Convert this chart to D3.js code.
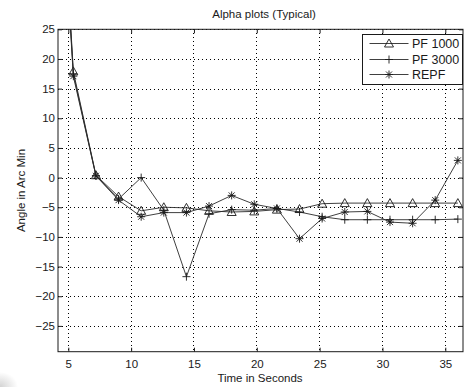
<!DOCTYPE html>
<html>
<head>
<meta charset="utf-8">
<script src="https://cdn.jsdelivr.net/npm/d3@7/dist/d3.min.js"></script>
<style>
  html, body { margin: 0; padding: 0; background: #fff; }
  svg { display: block; font-family: "Liberation Sans", Arial, Helvetica, sans-serif; }
</style>
</head>
<body>
<svg id="chart" width="464" height="387"></svg>
<script>
// Sample times (s); the first sample sits left of the visible window
const times = [3.6, 5.4, 7.2, 9.0, 10.8, 12.6, 14.4, 16.2, 18.0, 19.8, 21.6, 23.4, 25.2, 27.0, 28.8, 30.6, 32.4, 34.2, 36.0];

// Alpha angle in arc minutes for each filter
const pf1000 = [84, 17.9, 0.4, -3.2, -5.6, -5.0, -5.1, -5.6, -5.8, -5.7, -5.4, -5.3, -4.4, -4.3, -4.3, -4.3, -4.3, -4.3, -4.3];
const pf3000 = [82, 17.5, 0.3, -3.6, 0.0, -5.5, -16.7, -6.1, -5.4, -5.5, -5.2, -5.8, -6.6, -7.1, -7.1, -7.1, -7.1, -7.1, -7.0];
const repf   = [80, 17.1, 0.3, -3.8, -6.6, -5.9, -5.9, -4.8, -3.0, -4.5, -5.2, -10.3, -6.9, -5.8, -5.7, -7.5, -7.7, -3.8, 2.9];

const seriesNames = ["PF 1000", "PF 3000", "REPF"];
const seriesMarkers = ["triangle", "plus", "star"];

const xTicks = [5, 10, 15, 20, 25, 30, 35];
const yTicks = [25, 20, 15, 10, 5, 0, -5, -10, -15, -20, -25];

const title = "Alpha plots (Typical)";
const xLabel = "Time in Seconds";
const yLabel = "Angle in Arc Min";

// Layout
const plot = { left: 58, top: 29.3, right: 463, bottom: 351.7 };
const svg = d3.select("#chart");

const x = d3.scaleLinear().domain([4.18, 36.41]).range([plot.left, plot.right]);
const y = d3.scaleLinear().domain([-29.35, 25]).range([plot.bottom, plot.top]);

const ink = "#1a1a1a";

// Soft grey smudge in the lower-left corner of the page
const defs = svg.append("defs");
const rg = defs.append("radialGradient").attr("id", "cornerShade")
  .attr("cx", 0).attr("cy", 1).attr("r", 1);
rg.append("stop").attr("offset", 0).attr("stop-color", "#c8c8c8").attr("stop-opacity", 0.8);
rg.append("stop").attr("offset", 1).attr("stop-color", "#c8c8c8").attr("stop-opacity", 0);
svg.append("rect").attr("x", 0).attr("y", 372).attr("width", 18).attr("height", 15)
  .attr("fill", "url(#cornerShade)");

// Grid (dotted)
const grid = svg.append("g");
grid.selectAll(".gx").data(xTicks).join("line")
  .attr("x1", d => x(d)).attr("x2", d => x(d))
  .attr("y1", plot.top).attr("y2", plot.bottom)
  .attr("stroke", "#000").attr("stroke-width", 1)
  .attr("stroke-dasharray", "1,3").attr("shape-rendering", "crispEdges");
grid.selectAll(".gy").data(yTicks).join("line")
  .attr("y1", d => Math.round(y(d)) + 0.5).attr("y2", d => Math.round(y(d)) + 0.5)
  .attr("x1", plot.left).attr("x2", plot.right)
  .attr("stroke", "#000").attr("stroke-width", 1)
  .attr("stroke-dasharray", "1,3").attr("shape-rendering", "crispEdges");

// Axes with inward ticks on all four sides
const tick = 4;
const fmt = d3.format("");
const axB = svg.append("g").attr("transform", `translate(0,${plot.bottom})`)
  .call(d3.axisBottom(x).tickValues(xTicks).tickSizeInner(-tick).tickSizeOuter(0).tickPadding(8).tickFormat(fmt));
const axT = svg.append("g").attr("transform", `translate(0,${plot.top})`)
  .call(d3.axisTop(x).tickValues(xTicks).tickSizeInner(-tick).tickSizeOuter(0).tickFormat(""));
const axL = svg.append("g").attr("transform", `translate(${plot.left},0)`)
  .call(d3.axisLeft(y).tickValues(yTicks).tickSizeInner(-tick).tickSizeOuter(0).tickPadding(3).tickFormat(fmt));
const axR = svg.append("g").attr("transform", `translate(${plot.right},0)`)
  .call(d3.axisRight(y).tickValues(yTicks).tickSizeInner(-tick).tickSizeOuter(0).tickFormat(""));

[axB, axT, axL, axR].forEach(a => {
  a.select(".domain").remove();
  a.selectAll(".tick line").attr("stroke", ink);
  a.selectAll(".tick text").attr("fill", ink).attr("font-size", 11.5)
    .attr("font-family", "Liberation Sans, Arial, sans-serif");
});

// Frame
svg.append("rect")
  .attr("x", plot.left).attr("y", plot.top)
  .attr("width", plot.right - plot.left).attr("height", plot.bottom - plot.top)
  .attr("fill", "none").attr("stroke", ink).attr("stroke-width", 1);

// Clip for data lines
defs.append("clipPath").attr("id", "plotClip").append("rect")
  .attr("x", plot.left).attr("y", plot.top)
  .attr("width", plot.right - plot.left).attr("height", plot.bottom - plot.top);

const lineGen = d3.line().x(d => x(d[0])).y(d => y(d[1]));

function drawMarker(g, kind, cx, cy) {
  const s = 4;
  let d;
  if (kind === "triangle") {
    d = `M${cx},${cy - s - 0.5}L${cx + s + 0.5},${cy + s - 0.5}L${cx - s - 0.5},${cy + s - 0.5}Z`;
  } else if (kind === "plus") {
    d = `M${cx - s},${cy}H${cx + s}M${cx},${cy - s}V${cy + s}`;
  } else {
    const k = s * 0.75;
    d = `M${cx - s},${cy}H${cx + s}M${cx},${cy - s}V${cy + s}M${cx - k},${cy - k}L${cx + k},${cy + k}M${cx - k},${cy + k}L${cx + k},${cy - k}`;
  }
  g.append("path").attr("d", d)
    .attr("fill", "none").attr("stroke", ink).attr("stroke-width", 0.9);
}

const allSeries = [pf1000, pf3000, repf];
const [xd0, xd1] = x.domain();
const [yd0, yd1] = y.domain();
allSeries.forEach((vals, i) => {
  const pts = times.map((t, j) => [t, vals[j]]);
  const g = svg.append("g");
  g.append("path").datum(pts)
    .attr("clip-path", "url(#plotClip)")
    .attr("d", lineGen)
    .attr("fill", "none").attr("stroke", "#2a2a2a").attr("stroke-width", 0.9);
  pts.filter(p => p[0] >= xd0 && p[0] <= xd1 && p[1] >= yd0 && p[1] <= yd1)
    .forEach(p => drawMarker(g, seriesMarkers[i], x(p[0]), y(p[1])));
});

// Legend
const lg = svg.append("g");
const lgBox = { x: 362, y: 34, w: 101, h: 50 };
lg.append("rect").attr("x", lgBox.x + 0.5).attr("y", lgBox.y + 0.5)
  .attr("width", lgBox.w - 1).attr("height", lgBox.h)
  .attr("fill", "#fff").attr("stroke", ink).attr("stroke-width", 1);
const rowY = [43.5, 59.5, 74.5];
seriesNames.forEach((name, i) => {
  lg.append("line").attr("x1", 369.5).attr("x2", 408.5)
    .attr("y1", rowY[i]).attr("y2", rowY[i])
    .attr("stroke", "#2a2a2a").attr("stroke-width", 0.9);
  drawMarker(lg, seriesMarkers[i], 389, rowY[i]);
  lg.append("text").attr("x", 412).attr("y", rowY[i]).attr("dy", "0.36em")
    .attr("font-size", 12.5).attr("fill", ink).text(name);
});

// Titles
svg.append("text").attr("x", 264).attr("y", 14).attr("dy", "0.35em")
  .attr("text-anchor", "middle").attr("font-size", 11.5).attr("fill", ink).text(title);
svg.append("text").attr("x", 260).attr("y", 378).attr("dy", "0.35em")
  .attr("text-anchor", "middle").attr("font-size", 11.5).attr("fill", ink).text(xLabel);
svg.append("text")
  .attr("transform", `translate(21,${(plot.top + plot.bottom) / 2}) rotate(-90)`)
  .attr("dy", "0.35em").attr("text-anchor", "middle")
  .attr("font-size", 11.5).attr("fill", ink).text(yLabel);
</script>
</body>
</html>
